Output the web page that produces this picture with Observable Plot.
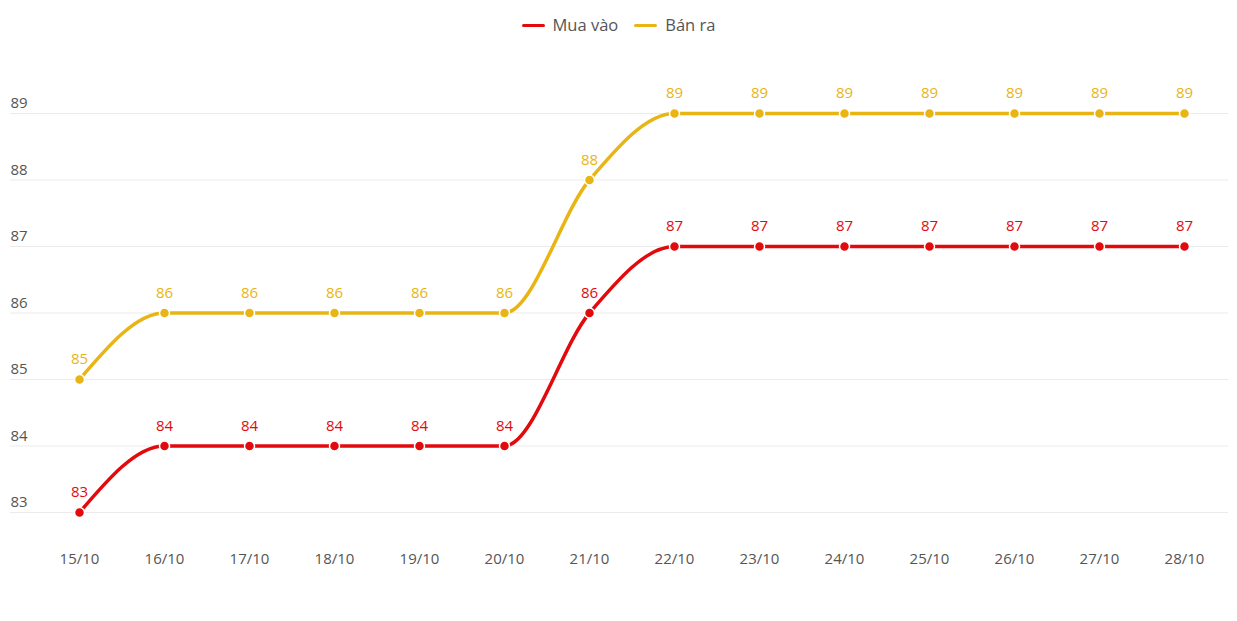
<!DOCTYPE html>
<html>
<head>
<meta charset="utf-8">
<script src="https://cdn.jsdelivr.net/npm/d3@7"></script>
<script src="https://cdn.jsdelivr.net/npm/@observablehq/plot@0.6"></script>
<style>
  body { margin: 0; background: #fff; font-family: "Open Sans", sans-serif; }
  #wrap { position: relative; width: 1237px; height: 621px; }
  #legend { position: absolute; top: 8px; left: 0; width: 1237px; text-align: center; font-size: 16.5px; color: #555; line-height: 26px; }
  .item { display: inline-flex; align-items: center; margin: 0 8px; }
  .sw { width: 23px; height: 3.5px; border-radius: 2px; margin-right: 8px; display: inline-block; }
</style>
</head>
<body>
<div id="wrap">
  <div id="legend"></div>
  <div id="chart"></div>
</div>
<script>
const dates = ["15/10","16/10","17/10","18/10","19/10","20/10","21/10","22/10","23/10","24/10","25/10","26/10","27/10","28/10"];
const muaVao = [83,84,84,84,84,84,86,87,87,87,87,87,87,87];
const banRa  = [85,86,86,86,86,86,88,89,89,89,89,89,89,89];
const yTicks = [83,84,85,86,87,88,89];
const seriesNames = ["Mua vào","Bán ra"];
const colors = ["#e20a0d","#e8b514"];

const rows = [];
dates.forEach((d,i) => {
  rows.push({date: d, value: muaVao[i], series: seriesNames[0]});
  rows.push({date: d, value: banRa[i], series: seriesNames[1]});
});

const legend = document.getElementById("legend");
seriesNames.forEach((s,i) => {
  const it = document.createElement("span");
  it.className = "item";
  it.innerHTML = `<span class="sw" style="background:${colors[i]}"></span>${s}`;
  legend.appendChild(it);
});

const chart = Plot.plot({
  width: 1237,
  height: 621,
  marginLeft: 10,
  marginRight: 9,
  marginTop: 113,
  marginBottom: 109,
  style: {fontFamily: "'Open Sans', sans-serif", fontSize: "15px", color: "#555", background: "transparent"},
  x: {type: "point", domain: dates, padding: 0.63, align: 0.61, label: null},
  y: {domain: [83, 89], label: null, axis: null},
  color: {domain: seriesNames, range: colors},
  marks: [
    Plot.ruleY(yTicks, {stroke: "#ebebeb", strokeWidth: 1}),
    Plot.text(yTicks, {y: d => d, frameAnchor: "left", textAnchor: "start", dy: -10, fill: "#555", fontSize: 15}),
    Plot.axisX({tickSize: 0, tickPadding: 41, fontSize: 15, fill: "#555", label: null}),
    Plot.line(rows, {x: "date", y: "value", z: "series", stroke: "series", strokeWidth: 3.5, curve: "monotone-x"}),
    Plot.dot(rows, {x: "date", y: "value", fill: "series", r: 5, stroke: "white", strokeWidth: 1.5}),
    Plot.text(rows, {x: "date", y: "value", text: d => String(d.value), fill: "series", dy: -20, fontSize: 15})
  ]
});
document.getElementById("chart").appendChild(chart);
</script>
</body>
</html>
